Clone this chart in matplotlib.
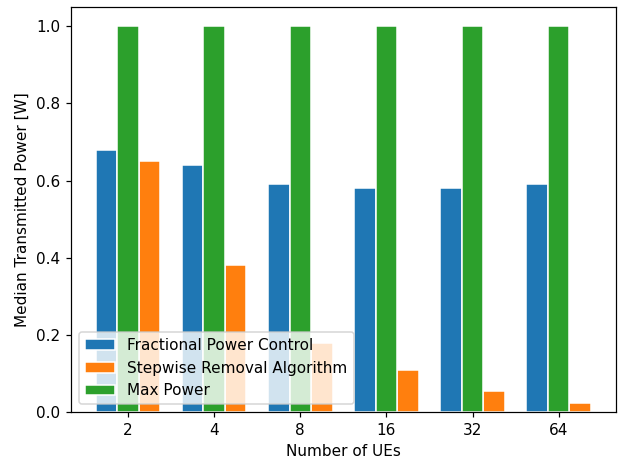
import numpy as np
import matplotlib
matplotlib.use("Agg")
import matplotlib.pyplot as plt

num_ues = ["2", "4", "8", "16", "32", "64"]
fpc = [0.68, 0.64, 0.59, 0.58, 0.58, 0.59]
sra = [0.65, 0.38, 0.178, 0.11, 0.055, 0.024]
max_power = [1.0, 1.0, 1.0, 1.0, 1.0, 1.0]

x = np.arange(len(num_ues))
w = 0.25

# small figure at higher dpi so text comes out a bit larger
fig = plt.figure(figsize=(622 / 110, 459 / 110), dpi=110)
ax = fig.add_axes([0.114, 0.1024, 0.876, 0.8824])

ax.bar(x - w, fpc, w, color='tab:blue', edgecolor='white', label='Fractional Power Control')
ax.bar(x + w, sra, w, color='tab:orange', edgecolor='white', label='Stepwise Removal Algorithm')
ax.bar(x, max_power, w, color='tab:green', edgecolor='white', label='Max Power')

ax.set_xticks(x)
ax.set_xticklabels(num_ues)
ax.set_xlabel("Number of UEs")
ax.set_ylabel("Median Transmitted Power [W]")
ax.legend(loc='lower left')

plt.savefig("out.png", dpi=110)
